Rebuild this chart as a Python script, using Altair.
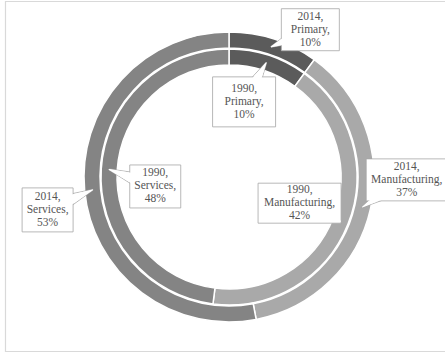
import math
import altair as alt
import pandas as pd

# ---------------- data ----------------
categories = ["Primary", "Manufacturing", "Services"]
years = ["2014", "1990"]
share_2014 = [10, 37, 53]
share_1990 = [10, 42, 48]

# ---------------- style / layout ----------------
colors = ["#5b5b5b", "#a9a9a9", "#848484"]
text_color = "#555555"
border_color = "#a6a6a6"
CX, CY = 229, 177
ring = {"2014": (129, 145), "1990": (112, 128)}
# box centre offset from slice midpoint (dx, dy), box width, box height
label_layout = {
    ("2014", "Primary"): (39, -17, 58, 42),
    ("1990", "Primary"): (-22, 39, 63, 50),
    ("2014", "Manufacturing"): (44, -27, 81, 42),
    ("1990", "Manufacturing"): (-41, -18, 83, 40),
    ("1990", "Services"): (46, 17, 51, 43),
    ("2014", "Services"): (-45, 20, 51, 44),
}

series = {"2014": share_2014, "1990": share_1990}

arc_rows, label_rows, trail_rows = [], [], []
for yr in years:
    vals = series[yr]
    r0, r1 = ring[yr]
    cum = 0
    for cat, v in zip(categories, vals):
        start, end = cum, cum + v
        cum = end
        arc_rows.append(dict(year=yr, category=cat, start=start, end=end, r0=r0, r1=r1))
        mid = (start + end) / 2 / 100 * 2 * math.pi
        rm = (r0 + r1) / 2
        tx = CX + rm * math.sin(mid)
        ty = CY - rm * math.cos(mid)
        dx, dy, bw, bh = label_layout[(yr, cat)]
        bx, by = tx + dx, ty + dy
        label_rows.append(dict(id=f"{yr}-{cat}", text=f"{yr},\n{cat},\n{v}%",
                               bx=bx, by=by, x1=bx - bw / 2, x2=bx + bw / 2,
                               y1=by - bh / 2, y2=by + bh / 2))
        trail_rows.append(dict(id=f"{yr}-{cat}", pt=0, px=bx, py=by, sz=22))
        trail_rows.append(dict(id=f"{yr}-{cat}", pt=1, px=tx, py=ty, sz=0))

arcs = pd.DataFrame(arc_rows)
labels = pd.DataFrame(label_rows)
trails = pd.DataFrame(trail_rows)

theta_scale = alt.Scale(domain=[0, 100], range=[0, 2 * math.pi])

arc_layer = alt.Chart(arcs).mark_arc(stroke="white", strokeWidth=1.5).encode(
    theta=alt.Theta("start:Q", scale=theta_scale),
    theta2="end:Q",
    radius=alt.Radius("r1:Q", scale=None),
    radius2=alt.Radius2("r0:Q"),
    x=alt.value(CX),
    y=alt.value(CY),
    color=alt.Color("category:N", scale=alt.Scale(domain=categories, range=colors), legend=None),
)

trail_outline = alt.Chart(trails).mark_trail(fill="white", stroke=border_color, strokeWidth=0.8).encode(
    x=alt.X("px:Q", scale=None),
    y=alt.Y("py:Q", scale=None),
    size=alt.Size("sz:Q", scale=None, legend=None),
    detail="id:N",
    order="pt:Q",
)

boxes = alt.Chart(labels).mark_rect(fill="white", stroke=border_color, strokeWidth=0.8).encode(
    x=alt.X("x1:Q", scale=None),
    x2="x2:Q",
    y=alt.Y("y1:Q", scale=None),
    y2="y2:Q",
)

trail_fill = alt.Chart(trails).mark_trail(fill="white", strokeWidth=0).encode(
    x=alt.X("px:Q", scale=None),
    y=alt.Y("py:Q", scale=None),
    size=alt.Size("sz:Q", scale=alt.Scale(domain=[0, 22], range=[0, 19]), legend=None),
    detail="id:N",
    order="pt:Q",
)

texts = alt.Chart(labels).mark_text(
    font="Liberation Serif", fontSize=11.5, color=text_color, lineBreak="\n",
    lineHeight=13, align="center", baseline="middle", dy=-13,
).encode(
    x=alt.X("bx:Q", scale=None),
    y=alt.Y("by:Q", scale=None),
    text="text:N",
)

frame = alt.Chart(pd.DataFrame({"k": [0]})).mark_rect(
    filled=False, stroke="#d9d9d9", strokeWidth=1.2
).encode(
    x=alt.value(5.5), x2=alt.value(452), y=alt.value(1.5), y2=alt.value(351.5)
)

chart = alt.layer(frame, arc_layer, trail_outline, boxes, trail_fill, texts).properties(
    width=445, height=353, autosize="none", padding=0, background="white"
).configure_view(stroke=None)

chart.save("out.html", embed_options={"renderer": "svg", "actions": False})
